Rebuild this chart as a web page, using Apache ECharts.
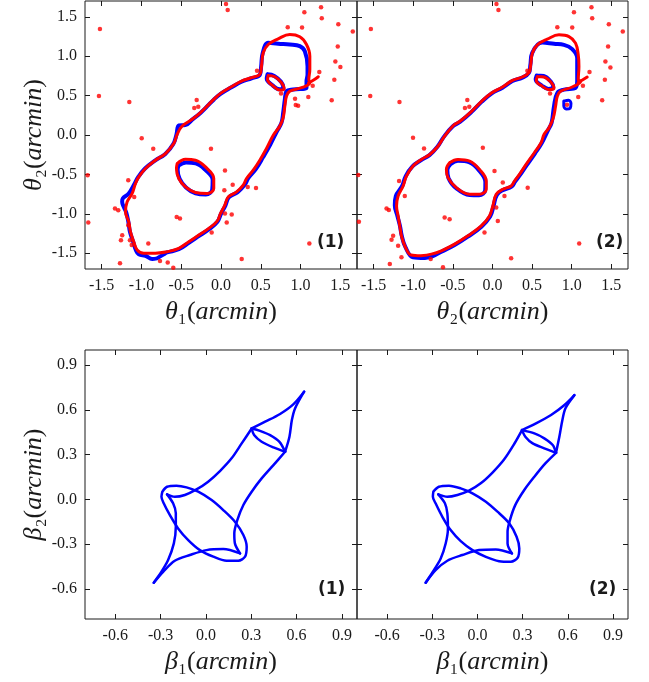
<!DOCTYPE html>
<html>
<head>
<meta charset="utf-8">
<script src="https://cdn.jsdelivr.net/npm/echarts@6/dist/echarts.min.js"></script>
<style>
html, body { margin: 0; padding: 0; background: #ffffff; }
#chart { width: 649px; height: 682px; }
</style>
</head>
<body>
<div id="chart"></div>
<script>
// ---- tick labels ----
const thetaTicks = [-1.5, -1.0, -0.5, 0.0, 0.5, 1.0, 1.5];
const betaTicks = [-0.6, -0.3, 0.0, 0.3, 0.6, 0.9];

// ---- panel (1): critical curves in the image plane ----
const critRed1 = [
  [-0.824,-1.501],[-0.971,-1.501],[-1.054,-1.459],[-1.097,-1.354],[-1.138,-1.228],[-1.160,-1.101],
  [-1.201,-0.975],[-1.180,-0.848],[-1.117,-0.742],[-1.075,-0.615],[-1.034,-0.532],[-0.950,-0.425],
  [-0.824,-0.320],[-0.698,-0.235],[-0.594,-0.109],[-0.551,0.009],[-0.488,0.114],[-0.362,0.199],
  [-0.258,0.284],[-0.153,0.389],[-0.091,0.452],[-0.006,0.528],[0.132,0.613],[0.258,0.684],
  [0.384,0.727],[0.488,0.768],[0.509,0.873],[0.531,1.043],[0.594,1.148],[0.719,1.220],
  [0.865,1.275],[0.991,1.246],[1.075,1.148],[1.117,1.000],[1.117,0.832],[1.104,0.705],
  [1.117,0.663],[1.013,0.600],[0.865,0.557],[0.824,0.494],[0.803,0.367],[0.782,0.220],
  [0.740,0.114],[0.657,-0.004],[0.572,-0.172],[0.488,-0.320],[0.405,-0.447],[0.321,-0.552],
  [0.279,-0.637],[0.195,-0.722],[0.091,-0.785],[0.048,-0.890],[-0.006,-0.995],[-0.048,-1.092],
  [-0.153,-1.185],[-0.279,-1.270],[-0.405,-1.354],[-0.531,-1.438],[-0.677,-1.481],[-0.824,-1.501]
];
const critBlue1 = [
  [-0.805,-1.565],[-0.865,-1.573],[-0.950,-1.532],[-1.034,-1.514],[-1.070,-1.460],[-1.105,-1.354],
  [-1.145,-1.228],[-1.165,-1.101],[-1.192,-0.982],[-1.223,-0.911],[-1.243,-0.848],[-1.235,-0.805],
  [-1.160,-0.742],[-1.085,-0.615],[-1.040,-0.532],[-0.955,-0.425],[-0.830,-0.325],[-0.700,-0.240],
  [-0.600,-0.115],[-0.560,0.005],[-0.530,0.120],[-0.450,0.125],[-0.362,0.195],[-0.258,0.280],
  [-0.153,0.385],[-0.091,0.448],[-0.006,0.522],[0.132,0.605],[0.258,0.676],[0.384,0.720],
  [0.488,0.760],[0.505,0.873],[0.525,1.043],[0.594,1.170],[0.719,1.157],[0.865,1.148],
  [0.991,1.127],[1.054,1.063],[1.088,0.873],[1.088,0.768],[1.075,0.680],[1.075,0.600],
  [0.908,0.578],[0.824,0.557],[0.803,0.452],[0.782,0.284],[0.761,0.157],[0.700,0.040],
  [0.620,-0.120],[0.530,-0.280],[0.440,-0.430],[0.345,-0.545],[0.300,-0.630],[0.210,-0.725],
  [0.100,-0.790],[0.055,-0.895],[0.000,-1.000],[-0.045,-1.100],[-0.150,-1.195],[-0.275,-1.280],
  [-0.400,-1.365],[-0.530,-1.450],[-0.677,-1.490],[-0.719,-1.514],[-0.805,-1.565]
];
const loopRed1 = [
  [-0.551,-0.362],[-0.447,-0.308],[-0.321,-0.320],[-0.195,-0.405],[-0.091,-0.552],[-0.091,-0.678],
  [-0.174,-0.742],[-0.321,-0.729],[-0.447,-0.658],[-0.531,-0.552],[-0.560,-0.425],[-0.551,-0.362]
];
const loopBlue1 = [
  [-0.535,-0.390],[-0.440,-0.350],[-0.320,-0.360],[-0.200,-0.440],[-0.105,-0.570],[-0.110,-0.690],
  [-0.190,-0.755],[-0.320,-0.740],[-0.440,-0.665],[-0.520,-0.555],[-0.545,-0.440],[-0.535,-0.390]
];
const ovalRed1 = [[0.594,0.756],[0.677,0.739],[0.761,0.663],[0.795,0.587],[0.740,0.570],[0.657,0.620],[0.585,0.705],[0.594,0.756]];
const ovalBlue1 = [[0.585,0.770],[0.670,0.750],[0.755,0.675],[0.785,0.600],[0.735,0.580],[0.650,0.630],[0.575,0.715],[0.585,0.770]];
const tailRed1 = [[1.100,0.660],[1.170,0.700],[1.223,0.739]];
const spotsRed1 = [
  [-1.522,1.346],[-1.535,0.496],[-1.153,0.420],[-0.306,0.445],[-0.336,0.344],[-0.286,0.357],
  [0.063,1.662],[0.084,1.587],[1.048,1.558],[1.258,1.621],[1.267,1.482],[1.475,1.406],
  [1.657,1.312],[0.839,1.368],[1.019,1.363],[1.468,1.123],[1.438,0.933],[1.501,0.862],
  [1.236,0.799],[1.425,0.702],[1.098,0.483],[0.931,0.461],[0.940,0.380],[0.970,0.370],
  [1.392,0.440],[0.755,0.525],[0.453,0.815],[1.153,0.626],[-0.997,-0.040],[-0.852,-0.174],
  [-0.126,-0.174],[-1.166,-0.575],[-1.091,-0.786],[-1.333,-0.933],[-1.292,-0.954],[-1.669,-1.110],
  [-1.677,-0.512],[-0.557,-1.039],[-0.516,-1.059],[-1.242,-1.271],[-1.258,-1.334],[-1.145,-1.334],
  [-1.166,-1.144],[-1.123,-1.397],[-0.914,-1.375],[-1.270,-1.628],[-0.767,-1.599],[-0.670,-1.616],
  [-0.600,-1.684],[0.050,-0.449],[0.147,-0.630],[0.042,-0.702],[0.440,-0.673],[0.336,-0.660],
  [0.050,-0.996],[0.135,-1.009],[0.072,-1.110],[1.111,-1.375],[0.260,-1.574],[-0.117,-1.236]
];

// ---- panel (2): critical curves in the image plane ----
const critRed2 = [
  [-0.903,-1.532],[-1.028,-1.523],[-1.107,-1.406],[-1.149,-1.279],[-1.170,-1.153],[-1.191,-1.027],
  [-1.211,-0.900],[-1.191,-0.774],[-1.128,-0.647],[-1.086,-0.521],[-1.003,-0.394],[-0.897,-0.310],
  [-0.792,-0.247],[-0.688,-0.142],[-0.604,-0.015],[-0.494,0.120],[-0.411,0.174],[-0.264,0.301],
  [-0.138,0.427],[-0.013,0.534],[0.126,0.609],[0.252,0.693],[0.377,0.736],[0.462,0.794],
  [0.482,0.891],[0.503,1.039],[0.566,1.144],[0.692,1.216],[0.839,1.271],[0.965,1.249],
  [1.048,1.166],[1.082,1.018],[1.091,0.870],[1.082,0.702],[1.111,0.680],[1.006,0.609],
  [0.859,0.554],[0.818,0.491],[0.796,0.364],[0.767,0.217],[0.713,0.091],[0.650,0.006],
  [0.613,-0.099],[0.528,-0.225],[0.424,-0.373],[0.340,-0.499],[0.277,-0.584],[0.235,-0.647],
  [0.130,-0.689],[0.047,-0.752],[0.004,-0.900],[-0.038,-1.027],[-0.142,-1.153],[-0.311,-1.279],
  [-0.478,-1.384],[-0.645,-1.469],[-0.771,-1.511],[-0.903,-1.532]
];
const critBlue2 = [
  [-0.855,-1.561],[-1.003,-1.552],[-1.100,-1.420],[-1.145,-1.279],[-1.168,-1.153],[-1.200,-1.027],
  [-1.233,-0.891],[-1.220,-0.774],[-1.140,-0.647],[-1.095,-0.521],[-1.010,-0.398],[-0.900,-0.318],
  [-0.795,-0.255],[-0.695,-0.150],[-0.612,-0.020],[-0.500,0.112],[-0.411,0.166],[-0.264,0.293],
  [-0.138,0.420],[-0.013,0.526],[0.126,0.600],[0.252,0.685],[0.377,0.728],[0.458,0.786],
  [0.478,0.891],[0.500,1.039],[0.629,1.173],[0.776,1.157],[0.902,1.144],[1.006,1.090],
  [1.069,0.976],[1.069,0.807],[1.069,0.702],[1.048,0.597],[0.902,0.575],[0.818,0.534],
  [0.776,0.364],[0.746,0.154],[0.700,0.060],[0.620,-0.105],[0.535,-0.235],[0.432,-0.382],
  [0.348,-0.507],[0.285,-0.592],[0.240,-0.655],[0.135,-0.697],[0.055,-0.760],[0.012,-0.905],
  [-0.030,-1.035],[-0.140,-1.163],[-0.311,-1.290],[-0.478,-1.396],[-0.645,-1.480],[-0.760,-1.540],
  [-0.855,-1.561]
];
const loopRed2 = [
  [-0.541,-0.351],[-0.436,-0.310],[-0.289,-0.331],[-0.164,-0.436],[-0.079,-0.584],[-0.079,-0.689],
  [-0.164,-0.752],[-0.289,-0.752],[-0.457,-0.668],[-0.562,-0.541],[-0.582,-0.436],[-0.541,-0.351]
];
const loopBlue2 = [
  [-0.530,-0.370],[-0.436,-0.328],[-0.289,-0.348],[-0.170,-0.450],[-0.090,-0.595],[-0.092,-0.700],
  [-0.170,-0.765],[-0.289,-0.762],[-0.455,-0.678],[-0.555,-0.548],[-0.570,-0.445],[-0.530,-0.370]
];
const ovalRed2 = [[0.566,0.743],[0.650,0.736],[0.746,0.660],[0.776,0.597],[0.713,0.575],[0.629,0.617],[0.553,0.693],[0.566,0.743]];
const ovalBlue2 = [[0.558,0.755],[0.645,0.748],[0.740,0.672],[0.768,0.607],[0.708,0.585],[0.622,0.628],[0.545,0.703],[0.558,0.755]];
const blobBlue2 = [[0.900,0.430],[0.960,0.440],[0.990,0.400],[0.980,0.340],[0.930,0.330],[0.900,0.370],[0.900,0.430]];
const tailRed2 = [[1.080,0.665],[1.140,0.700],[1.195,0.736]];
const spotsRed2 = [
  [-1.535,1.346],[-1.543,0.496],[-1.174,0.420],[-0.318,0.445],[-0.348,0.344],[-0.293,0.357],
  [0.050,1.662],[0.075,1.587],[1.028,1.558],[1.249,1.621],[1.258,1.482],[1.468,1.406],
  [1.644,1.312],[0.818,1.368],[1.006,1.363],[1.459,1.123],[1.425,0.933],[1.488,0.857],
  [1.224,0.799],[1.418,0.702],[1.082,0.483],[1.384,0.440],[0.726,0.525],[0.440,0.815],
  [1.141,0.626],[0.940,0.385],[-1.003,-0.035],[-0.864,-0.171],[-0.122,-0.162],[-1.179,-0.584],
  [-1.107,-0.774],[-1.337,-0.933],[-1.308,-0.951],[-1.694,-0.508],[-1.686,-1.102],[-0.604,-1.047],
  [-0.541,-1.068],[0.025,-0.458],[0.130,-0.604],[0.151,-0.774],[0.444,-0.668],[0.047,-0.920],
  [0.067,-1.090],[-0.101,-1.236],[-1.254,-1.279],[-1.274,-1.330],[-1.191,-1.406],[-1.149,-1.552],
  [-1.296,-1.637],[-0.780,-1.574],[-0.625,-1.679],[0.235,-1.565],[1.094,-1.375]
];

// ---- panel (1): caustics in the source plane ----
const causLeft1 = [[-0.345,-0.557],[-0.294,-0.484],[-0.250,-0.406],[-0.212,-0.294],[-0.199,-0.183],[-0.199,-0.093],[-0.217,-0.026],[-0.257,0.034]];
const causBottom1 = [[-0.345,-0.557],[-0.283,-0.484],[-0.206,-0.410],[-0.106,-0.372],[0.004,-0.339],[0.115,-0.332],[0.226,-0.361]];
const causMid1 = [[-0.257,0.034],[-0.206,0.018],[-0.139,0.030],[-0.062,0.067],[0.015,0.119],[0.093,0.190],[0.170,0.275],[0.237,0.375],[0.303,0.475]];
const causRight1 = [[0.226,-0.361],[0.192,-0.294],[0.188,-0.227],[0.208,-0.138],[0.248,-0.037],[0.303,0.052],[0.369,0.141],[0.447,0.230],[0.524,0.319]];
const causUpper1 = [[0.303,0.475],[0.392,0.520],[0.491,0.572],[0.580,0.638],[0.650,0.721]];
const causTip1 = [[0.650,0.721],[0.590,0.609],[0.569,0.531],[0.553,0.420],[0.524,0.319]];
const lensA1 = [[0.303,0.475],[0.358,0.459],[0.425,0.430],[0.487,0.385],[0.524,0.319]];
const lensB1 = [[0.303,0.475],[0.319,0.431],[0.369,0.386],[0.447,0.348],[0.524,0.319]];
const causOval1 = [
  [-0.288,0.052],[-0.257,0.085],[-0.195,0.092],[-0.128,0.081],[-0.051,0.052],[0.038,-0.004],
  [0.115,-0.071],[0.192,-0.149],[0.248,-0.238],[0.270,-0.316],[0.259,-0.383],[0.215,-0.410],
  [0.137,-0.410],[0.049,-0.383],[-0.040,-0.339],[-0.117,-0.272],[-0.184,-0.194],[-0.239,-0.104],
  [-0.279,-0.026],[-0.294,0.018],[-0.288,0.052]
];

// ---- panel (2): caustics in the source plane ----
const causLeft2 = [[-0.344,-0.557],[-0.296,-0.484],[-0.244,-0.395],[-0.211,-0.295],[-0.196,-0.194],[-0.200,-0.093],[-0.216,-0.026],[-0.260,0.034]];
const causBottom2 = [[-0.344,-0.557],[-0.278,-0.473],[-0.200,-0.410],[-0.100,-0.372],[0.011,-0.339],[0.122,-0.335],[0.229,-0.361]];
const causMid2 = [[-0.260,0.034],[-0.200,0.018],[-0.133,0.030],[-0.056,0.059],[0.022,0.108],[0.100,0.180],[0.178,0.269],[0.244,0.371],[0.296,0.464]];
const causRight2 = [[0.229,-0.361],[0.200,-0.294],[0.200,-0.216],[0.216,-0.138],[0.251,-0.038],[0.311,0.063],[0.378,0.152],[0.451,0.241],[0.522,0.312]];
const causUpper2 = [[0.296,0.464],[0.389,0.509],[0.489,0.565],[0.578,0.632],[0.644,0.698]];
const causTip2 = [[0.644,0.698],[0.584,0.609],[0.562,0.520],[0.544,0.419],[0.522,0.312]];
const lensA2 = [[0.296,0.464],[0.378,0.442],[0.444,0.409],[0.500,0.364],[0.522,0.312]];
const lensB2 = [[0.296,0.464],[0.318,0.420],[0.367,0.375],[0.444,0.342],[0.522,0.312]];
const causOval2 = [
  [-0.293,0.052],[-0.256,0.085],[-0.189,0.092],[-0.111,0.074],[-0.033,0.041],[0.056,-0.015],
  [0.133,-0.082],[0.211,-0.160],[0.260,-0.250],[0.278,-0.328],[0.267,-0.390],[0.222,-0.417],
  [0.144,-0.413],[0.056,-0.384],[-0.033,-0.339],[-0.111,-0.279],[-0.178,-0.205],[-0.233,-0.116],
  [-0.278,-0.026],[-0.296,0.018],[-0.293,0.052]
];

// ---- styling helpers ----
const INK = '#1a1a1a';
const BLUE = '#0000ff';
const RED = '#ff0000';
const tickFont = { fontFamily: 'Liberation Serif', fontSize: 16, color: INK };
const nameRich = {
  i: { fontFamily: 'Liberation Serif', fontStyle: 'italic', fontSize: 26, color: INK },
  n: { fontFamily: 'Liberation Serif', fontSize: 26, color: INK }
};
const fmt = v => Number(v).toFixed(1);

function mathName(sym, sub) {
  return '{i|' + sym + '}{n|' + sub + '(}{i|arcmin}{n|)}';
}

const grids = [
  { left: 85, top: 1, width: 272, height: 268 },
  { left: 357, top: 1, width: 271, height: 268 },
  { left: 85, top: 350, width: 272, height: 269 },
  { left: 357, top: 350, width: 271, height: 269 }
].map(g => Object.assign({ show: true, borderColor: INK, borderWidth: 1, backgroundColor: 'transparent' }, g));

const xAxes = [];
const yAxes = [];

function addAxes(g, xr, yr, ticks, showYLabels, xName, yName) {
  const tick = { show: true, inside: true, length: 5, customValues: ticks, lineStyle: { color: INK, width: 1 } };
  const common = { type: 'value', gridIndex: g, splitLine: { show: false }, axisLine: { show: false, onZero: false } };
  xAxes.push(Object.assign({}, common, {
    position: 'bottom', min: xr[0], max: xr[1], axisTick: tick,
    axisLabel: Object.assign({ customValues: ticks, formatter: fmt, margin: 9 }, tickFont),
    name: xName, nameLocation: 'middle', nameGap: 30,
    nameTextStyle: { rich: nameRich }
  }));
  xAxes.push(Object.assign({}, common, {
    position: 'top', min: xr[0], max: xr[1], axisTick: tick, axisLabel: { show: false }
  }));
  yAxes.push(Object.assign({}, common, {
    position: 'left', min: yr[0], max: yr[1], axisTick: tick,
    axisLabel: Object.assign({ show: showYLabels, customValues: ticks, formatter: fmt, margin: 8 }, tickFont),
    name: yName, nameLocation: 'middle', nameGap: 38, nameRotate: 90,
    nameTextStyle: { rich: nameRich }
  }));
  yAxes.push(Object.assign({}, common, {
    position: 'right', min: yr[0], max: yr[1], axisTick: tick, axisLabel: { show: false }
  }));
}

addAxes(0, [-1.71, 1.71], [-1.7, 1.7], thetaTicks, true, mathName('θ', '₁'), mathName('θ', '₂'));
addAxes(1, [-1.71, 1.71], [-1.7, 1.7], thetaTicks, false, mathName('θ', '₂'), '');
addAxes(2, [-0.8, 1.0], [-0.8, 1.0], betaTicks, true, mathName('β', '₁'), mathName('β', '₂'));
addAxes(3, [-0.8, 1.0], [-0.8, 1.0], betaTicks, false, mathName('β', '₁'), '');

function curve(panel, data, color, width, z, smooth) {
  return {
    type: 'line', xAxisIndex: panel * 2, yAxisIndex: panel * 2, data: data,
    showSymbol: false, smooth: smooth, silent: true, z: z,
    lineStyle: { color: color, width: width, cap: 'round', join: 'round' }
  };
}
function spots(panel, data) {
  return {
    type: 'scatter', xAxisIndex: panel * 2, yAxisIndex: panel * 2, data: data,
    symbol: 'circle', symbolSize: 4.5, silent: true, z: 5,
    itemStyle: { color: RED }
  };
}

const series = [
  curve(0, critBlue1, BLUE, 4, 2, 0.4), curve(0, loopBlue1, BLUE, 4, 2, 0.4), curve(0, ovalBlue1, BLUE, 4, 2, 0.4),
  curve(0, critRed1, RED, 3, 3, 0.4), curve(0, loopRed1, RED, 3, 3, 0.4), curve(0, ovalRed1, RED, 3, 3, 0.4),
  curve(0, tailRed1, RED, 3, 3, 0.4), spots(0, spotsRed1),

  curve(1, critBlue2, BLUE, 4, 2, 0.4), curve(1, loopBlue2, BLUE, 4, 2, 0.4), curve(1, ovalBlue2, BLUE, 4, 2, 0.4),
  curve(1, blobBlue2, BLUE, 3, 2, 0.4),
  curve(1, critRed2, RED, 3, 3, 0.4), curve(1, loopRed2, RED, 3, 3, 0.4), curve(1, ovalRed2, RED, 3, 3, 0.4),
  curve(1, tailRed2, RED, 3, 3, 0.4), spots(1, spotsRed2)
];
[causLeft1, causBottom1, causMid1, causRight1, causUpper1, causTip1, lensA1, lensB1, causOval1]
  .forEach(d => series.push(curve(2, d, BLUE, 2.5, 2, 0.3)));
[causLeft2, causBottom2, causMid2, causRight2, causUpper2, causTip2, lensA2, lensB2, causOval2]
  .forEach(d => series.push(curve(3, d, BLUE, 2.5, 2, 0.3)));

const tagStyle = { fontFamily: 'DejaVu Sans', fontWeight: 'bold', fontSize: 17, fill: INK, textAlign: 'center', textVerticalAlign: 'middle' };
const graphic = [
  { type: 'text', left: 317, top: 234, style: Object.assign({ text: '(1)' }, tagStyle) },
  { type: 'text', left: 596, top: 234, style: Object.assign({ text: '(2)' }, tagStyle) },
  { type: 'text', left: 318, top: 581, style: Object.assign({ text: '(1)' }, tagStyle) },
  { type: 'text', left: 589, top: 581, style: Object.assign({ text: '(2)' }, tagStyle) }
];

const chart = echarts.init(document.getElementById('chart'), null, { renderer: 'canvas' });
chart.setOption({
  animation: false,
  backgroundColor: '#ffffff',
  grid: grids,
  xAxis: xAxes,
  yAxis: yAxes,
  series: series,
  graphic: graphic
});
</script>
</body>
</html>
